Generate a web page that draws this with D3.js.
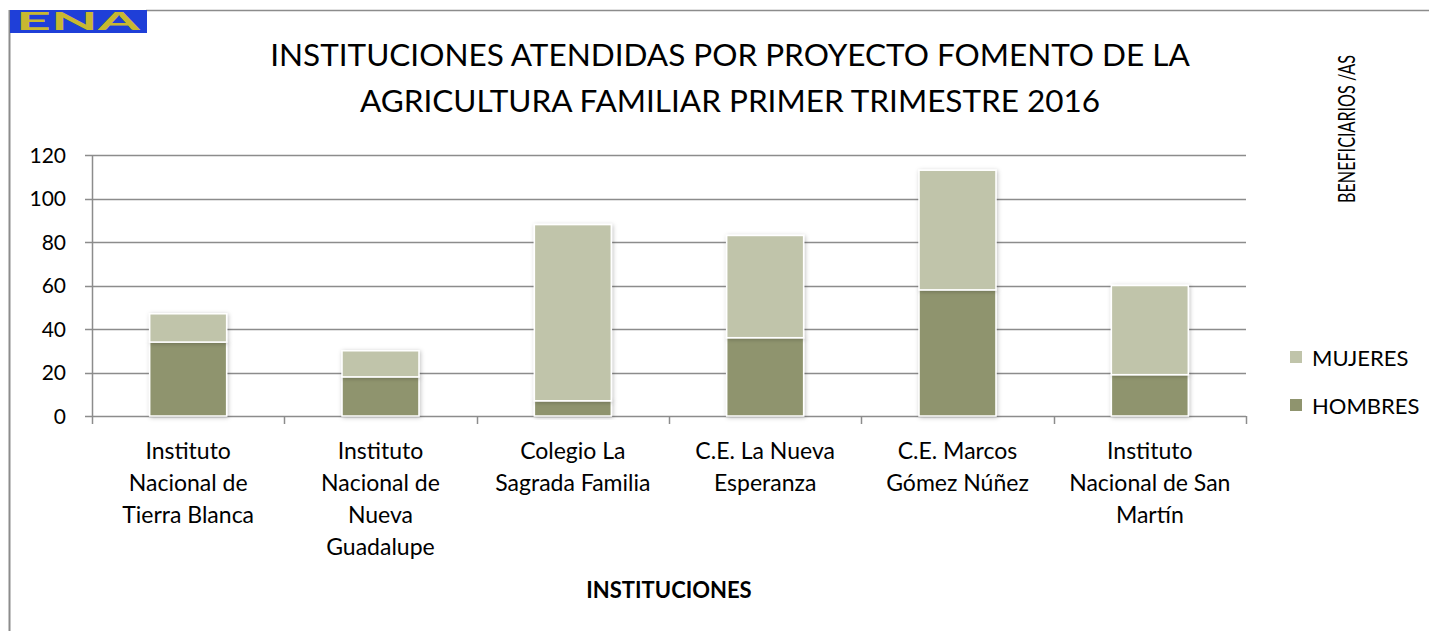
<!DOCTYPE html>
<html>
<head>
<meta charset="utf-8">
<script src="https://cdn.jsdelivr.net/npm/d3@7"></script>
<style>
  body { margin: 0; background: #fff; }
  text { font-family: Lato, "Open Sans", sans-serif; }
</style>
</head>
<body>
<script>
var w = 1429;
var h = 631;

var categories = [
  ["Instituto", "Nacional de", "Tierra Blanca"],
  ["Instituto", "Nacional de", "Nueva", "Guadalupe"],
  ["Colegio La", "Sagrada Familia"],
  ["C.E. La Nueva", "Esperanza"],
  ["C.E. Marcos", "Gómez Núñez"],
  ["Instituto", "Nacional de San", "Martín"]
];
var hombres = [34, 18, 7, 36, 58, 19];
var mujeres = [13, 12, 81, 47, 55, 41];
var seriesNames = ["HOMBRES", "MUJERES"];
var seriesColors = ["#8f946e", "#c0c4aa"];
var yTicks = [0, 20, 40, 60, 80, 100, 120];

var svg = d3.select("body").append("svg")
    .attr("width", w)
    .attr("height", h);

var defs = svg.append("defs");
var f = defs.append("filter").attr("id", "shadow")
    .attr("x", "-20%").attr("y", "-20%").attr("width", "140%").attr("height", "140%");
f.append("feDropShadow").attr("dx", 1).attr("dy", 1).attr("stdDeviation", 2)
    .attr("flood-color", "#000").attr("flood-opacity", 0.25);

// frame
svg.append("line").attr("x1", 9.5).attr("x2", 9.5).attr("y1", 10).attr("y2", h)
    .attr("stroke", "#8c8c8c").attr("stroke-width", 2);
svg.append("line").attr("x1", 146).attr("x2", w).attr("y1", 10.5).attr("y2", 10.5)
    .attr("stroke", "#8c8c8c").attr("stroke-width", 1.5);

// logo
var logo = svg.append("g");
logo.append("rect").attr("x", 10).attr("y", 10).attr("width", 137).attr("height", 23).attr("fill", "#1f3fd8");
logo.append("text").text("ENA")
    .attr("x", 78).attr("y", 30)
    .attr("text-anchor", "middle")
    .attr("font-size", 24)
    .attr("font-weight", "bold")
    .attr("textLength", 124)
    .attr("lengthAdjust", "spacingAndGlyphs")
    .attr("fill", "#c8b830");

// title
var title = ["INSTITUCIONES ATENDIDAS POR PROYECTO FOMENTO DE LA", "AGRICULTURA FAMILIAR PRIMER TRIMESTRE 2016"];
svg.selectAll(".title").data(title).enter().append("text")
    .attr("class", "title")
    .attr("x", 730)
    .attr("y", function(d, i) { return 66 + i * 46; })
    .attr("text-anchor", "middle")
    .attr("font-size", 31.5)
    .attr("fill", "#000")
    .text(function(d) { return d; });

var pLeft = 92, pRight = 1246, pTop = 155, pBottom = 416;

var x = d3.scaleBand().domain(d3.range(categories.length)).range([pLeft, pRight]).paddingInner(0.6).paddingOuter(0.3);
var xOuter = d3.scaleBand().domain(d3.range(categories.length)).range([pLeft, pRight]);
var y = d3.scaleLinear().domain([0, 120]).range([pBottom, pTop]);

// gridlines
svg.append("g").selectAll("line").data(yTicks).enter().append("line")
    .attr("x1", pLeft - 7).attr("x2", pRight)
    .attr("y1", function(d) { return Math.round(y(d)) + 0.5; })
    .attr("y2", function(d) { return Math.round(y(d)) + 0.5; })
    .attr("stroke", "#8c8c8c").attr("stroke-width", 1.5);

// y axis
svg.append("line").attr("x1", pLeft + 0.5).attr("x2", pLeft + 0.5).attr("y1", pTop).attr("y2", pBottom)
    .attr("stroke", "#8c8c8c").attr("stroke-width", 1.5);
svg.append("g").selectAll("text").data(yTicks).enter().append("text")
    .attr("x", 66)
    .attr("y", function(d) { return y(d) + 7.5; })
    .attr("text-anchor", "end")
    .attr("font-size", 21)
    .attr("fill", "#000")
    .text(function(d) { return d; });

// x ticks
var bounds = d3.range(categories.length + 1).map(function(i) { return pLeft + i * xOuter.bandwidth(); });
svg.append("g").selectAll("line").data(bounds).enter().append("line")
    .attr("x1", function(d) { return Math.round(d) + 0.5; })
    .attr("x2", function(d) { return Math.round(d) + 0.5; })
    .attr("y1", pBottom).attr("y2", pBottom + 8)
    .attr("stroke", "#8c8c8c").attr("stroke-width", 1.5);

// stacked bars
var rows = categories.map(function(c, i) { return { i: i, HOMBRES: hombres[i], MUJERES: mujeres[i] }; });
var stack = d3.stack().keys(seriesNames)(rows);
svg.append("g").selectAll("g").data(stack).enter().append("g")
    .attr("fill", function(d, i) { return seriesColors[i]; })
  .selectAll("rect").data(function(d) { return d; }).enter().append("rect")
    .attr("x", function(d) { return x(d.data.i); })
    .attr("width", x.bandwidth())
    .attr("y", function(d) { return y(d[1]); })
    .attr("height", function(d) { return y(d[0]) - y(d[1]); })
    .attr("stroke", "#fff")
    .attr("stroke-width", 1.5)
    .attr("filter", "url(#shadow)");

// x labels
var xl = svg.append("g").selectAll("text").data(categories).enter().append("text")
    .attr("x", function(d, i) { return xOuter(i) + xOuter.bandwidth() / 2; })
    .attr("y", 459)
    .attr("text-anchor", "middle")
    .attr("font-size", 23)
    .attr("fill", "#000");
xl.selectAll("tspan").data(function(d) { return d; }).enter().append("tspan")
    .attr("x", function() { return d3.select(this.parentNode).attr("x"); })
    .attr("dy", function(d, i) { return i === 0 ? 0 : 32; })
    .text(function(d) { return d; });

// axis titles
svg.append("text").text("INSTITUCIONES")
    .attr("x", (pLeft + pRight) / 2).attr("y", 598)
    .attr("text-anchor", "middle")
    .attr("font-size", 22)
    .attr("font-weight", "bold")
    .attr("fill", "#000");

svg.append("text").text("BENEFICIARIOS /AS")
    .attr("transform", "translate(1355,129) rotate(-90)")
    .attr("text-anchor", "middle")
    .attr("font-size", 24)
    .attr("textLength", 148)
    .attr("lengthAdjust", "spacingAndGlyphs")
    .attr("fill", "#000");

// legend
var legendItems = [{ name: "MUJERES", color: seriesColors[1] }, { name: "HOMBRES", color: seriesColors[0] }];
var lg = svg.append("g").selectAll("g").data(legendItems).enter().append("g")
    .attr("transform", function(d, i) { return "translate(1290," + (351 + i * 48) + ")"; });
lg.append("rect").attr("width", 12).attr("height", 12).attr("fill", function(d) { return d.color; });
lg.append("text").attr("x", 22).attr("y", 15)
    .attr("font-size", 22)
    .attr("fill", "#000")
    .text(function(d) { return d.name; });
</script>
</body>
</html>
